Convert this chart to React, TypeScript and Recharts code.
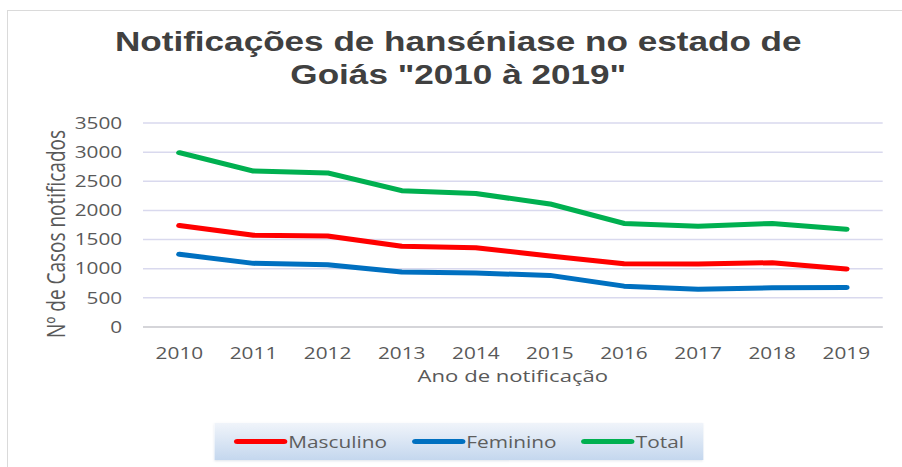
import { LineChart, Line, XAxis, YAxis, CartesianGrid } from 'recharts';

// Casos notificados por ano
const years = ['2010', '2011', '2012', '2013', '2014', '2015', '2016', '2017', '2018', '2019'];
const masculino = [1740, 1575, 1560, 1385, 1360, 1218, 1086, 1080, 1103, 995];
const feminino = [1247, 1092, 1069, 943, 925, 885, 701, 649, 672, 678];
const total = [2990, 2676, 2644, 2339, 2290, 2111, 1776, 1730, 1776, 1678];
const yTicks = [0, 500, 1000, 1500, 2000, 2500, 3000, 3500];

const series = [
  { key: 'masculino', name: 'Masculino', color: '#ff0000' },
  { key: 'feminino', name: 'Feminino', color: '#0070c0' },
  { key: 'total', name: 'Total', color: '#00b050' },
];

// the source picture is stretched horizontally, so draw narrow and scale
const STRETCH = 1.3;
const W = 694;
const H = 467;
const FONT = '"Open Sans", sans-serif';
const TEXT = '#595959';

const data = years.map((y, i) => ({
  year: y,
  masculino: masculino[i],
  feminino: feminino[i],
  total: total[i],
}));

function YLabel({ viewBox }: any) {
  const cx = viewBox.x + 12;
  const cy = viewBox.y + viewBox.height / 2 + 9;
  return (
    <text
      x={cx}
      y={cy}
      transform={`rotate(-90, ${cx}, ${cy})`}
      textAnchor="middle"
      dominantBaseline="central"
      fill={TEXT}
      fontSize={19}
      fontFamily={FONT}
    >
      Nº de Casos notificados
    </text>
  );
}

export default function App() {
  return (
    <div style={{ position: 'absolute', left: 0, top: 0, width: 902, height: 467, overflow: 'hidden', background: '#fff' }}>
      <div style={{ position: 'absolute', left: 7, top: 10, width: 1000, height: 500, border: '1px solid #dadada' }} />
      <div style={{ position: 'absolute', left: 0, top: 0, width: W, height: H, transform: `scaleX(${STRETCH})`, transformOrigin: '0 0' }}>
        <div
          style={{
            position: 'absolute',
            left: 0,
            top: 26,
            width: 705,
            textAlign: 'center',
            fontFamily: '"Liberation Sans", Arial, sans-serif',
            fontWeight: 'bold',
            fontSize: 27,
            lineHeight: '33px',
            color: '#404040',
          }}
        >
          Notificações de hanséniase no estado de
          <br />
          Goiás "2010 à 2019"
        </div>
        <LineChart width={W} height={H} data={data} margin={{ top: 123, right: 15, bottom: 110, left: 30 }}>
          <CartesianGrid vertical={false} stroke="#d9d9ee" strokeWidth={1.5} />
          <XAxis
            dataKey="year"
            height={30}
            padding={{ left: 28, right: 28 }}
            axisLine={{ stroke: '#d0d0d0', strokeWidth: 1.5 }}
            tickLine={false}
            tickSize={0}
            tickMargin={21}
            tick={{ fill: TEXT, fontSize: 16, fontFamily: FONT }}
            label={{ value: 'Ano de notificação', position: 'bottom', offset: 13, fill: TEXT, fontSize: 17, fontFamily: FONT }}
          />
          <YAxis
            width={80}
            domain={[0, 3500]}
            ticks={yTicks}
            axisLine={false}
            tickLine={false}
            tickSize={0}
            tickMargin={16}
            tick={{ fill: TEXT, fontSize: 16, fontFamily: FONT }}
            label={{ content: (p: any) => <YLabel {...p} /> }}
          />
          {series.map(s => (
            <Line
              key={s.key}
              type="linear"
              dataKey={s.key}
              name={s.name}
              stroke={s.color}
              strokeWidth={5}
              strokeLinecap="round"
              strokeLinejoin="round"
              dot={false}
              activeDot={false}
              isAnimationActive={false}
            />
          ))}
        </LineChart>
        <div
          style={{
            position: 'absolute',
            left: 165,
            top: 423,
            width: 376,
            height: 37,
            background: 'linear-gradient(#f0f4fa, #c4d7ee)',
            boxShadow: '0 1px 2px rgba(120,140,170,0.25)',
            display: 'flex',
            alignItems: 'center',
            justifyContent: 'center',
            gap: 19,
            fontFamily: FONT,
            fontSize: 16,
            color: '#5e5e5e',
          }}
        >
          {series.map(s => (
            <span key={s.key} style={{ display: 'flex', alignItems: 'center' }}>
              <span style={{ display: 'inline-block', width: 41, height: 5, borderRadius: 3, background: s.color, marginRight: 1 }} />
              {s.name}
            </span>
          ))}
        </div>
      </div>
    </div>
  );
}
